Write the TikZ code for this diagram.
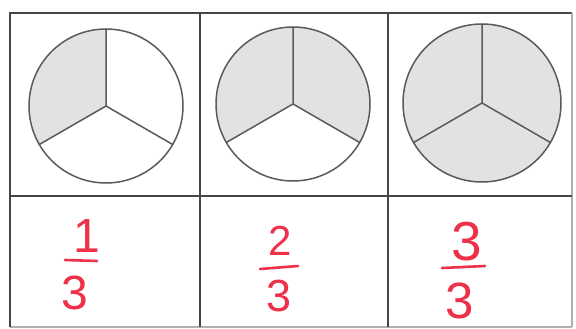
\documentclass[tikz,border=0pt]{standalone}
\usepackage{fontspec}
\setmainfont{Liberation Sans}
\definecolor{gridline}{RGB}{70,70,70}
\definecolor{gridfaint}{RGB}{175,175,175}
\definecolor{pieline}{RGB}{90,90,90}
\definecolor{piefill}{RGB}{226,226,226}
\definecolor{ink}{RGB}{238,48,72}
\tikzset{
  gridstyle/.style={draw=gridline, line width=1.3pt},
  faintgrid/.style={draw=gridfaint, line width=1.1pt},
  piestyle/.style={draw=pieline, line width=1.5pt, line join=round},
  shade/.style={fill=piefill},
  digit/.style={text=ink, inner sep=0pt, anchor=center},
  fracbar/.style={draw=ink, line width=2.6pt, line cap=round},
}
\begin{document}
\begin{tikzpicture}[x=1pt,y=-1pt]
\useasboundingbox (0,0) rectangle (576,329);
\fill[white] (0,0) rectangle (576,329);
% table
\draw[faintgrid] (10,327) -- (572,327);
\draw[gridstyle] (10,327) -- (10,13) -- (572,13);
\draw[faintgrid] (572,13) -- (572,327);
\draw[gridstyle] (10,196) -- (572,196);
\draw[gridstyle] (200,13) -- (200,327);
\draw[gridstyle] (388,13) -- (388,327);
% pies
\coordinate (p1) at (106,106);
\coordinate (p2) at (293,104);
\coordinate (p3) at (482,103);
% pie 1 : one third shaded
\fill[shade] (p1) -- ++(150:77) arc[start angle=150,end angle=270,radius=77] -- cycle;
\draw[piestyle] (p1) circle[radius=77];
\draw[piestyle] (p1) -- ++(270:77) (p1) -- ++(150:77) (p1) -- ++(30:77);
% pie 2 : two thirds shaded
\fill[shade] (p2) -- ++(150:77) arc[start angle=150,end angle=390,radius=77] -- cycle;
\draw[piestyle] (p2) circle[radius=77];
\draw[piestyle] (p2) -- ++(270:77) (p2) -- ++(150:77) (p2) -- ++(30:77);
% pie 3 : all shaded
\fill[shade] (p3) circle[radius=79];
\draw[piestyle] (p3) circle[radius=79];
\draw[piestyle] (p3) -- ++(270:79) (p3) -- ++(150:79) (p3) -- ++(30:79);
% fractions
\node[digit, font=\fontsize{48}{48}\selectfont] (n1) at (87,236) {1};
\node[digit, font=\fontsize{48}{48}\selectfont] (d1) at (75,293) {3};
\coordinate (b1a) at (65,260); \coordinate (b1b) at (97,261);
\draw[fracbar] (b1a) -- (b1b);
\node[digit, font=\fontsize{42}{42}\selectfont] (n2) at (280,241) {2};
\node[digit, font=\fontsize{45}{45}\selectfont] (d2) at (279,296) {3};
\coordinate (b2a) at (260,269); \coordinate (b2b) at (298,266);
\draw[fracbar] (b2a) -- (b2b);
\node[digit, font=\fontsize{55}{55}\selectfont] (n3) at (467,242) {3};
\node[digit, font=\fontsize{51}{51}\selectfont] (d3) at (460,301) {3};
\coordinate (b3a) at (442,268); \coordinate (b3b) at (485,266);
\draw[fracbar] (b3a) -- (b3b);
\end{tikzpicture}
\end{document}
